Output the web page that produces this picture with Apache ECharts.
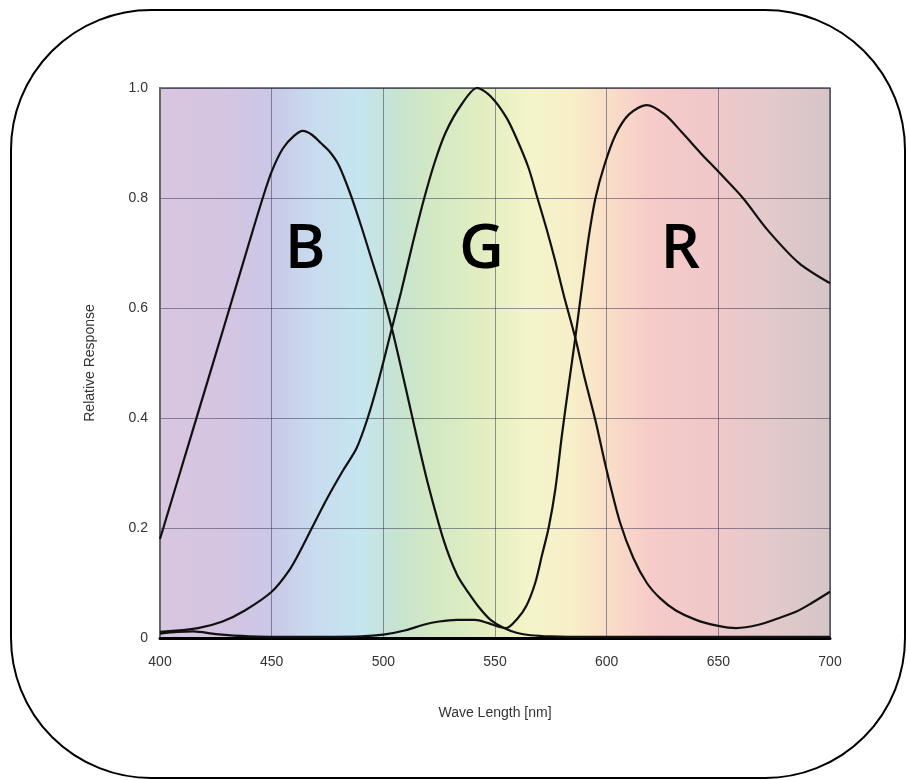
<!DOCTYPE html>
<html>
<head>
<meta charset="utf-8">
<script src="https://cdn.jsdelivr.net/npm/echarts@6/dist/echarts.min.js"></script>
<style>
  html, body { margin: 0; padding: 0; background: #fff; }
  #chart { width: 907px; height: 780px; }
</style>
</head>
<body>
<div id="chart"></div>
<script>
// 波长 / 响应数据
const blueNm = [400, 415, 430, 440, 446, 450, 455, 460, 464, 468, 472, 476, 480, 485, 490, 495, 500, 504, 510, 515, 520, 527, 533, 538, 543, 548, 554, 560, 566, 575, 590, 620, 660, 700];
const blueVal = [0.18, 0.382, 0.584, 0.72, 0.8, 0.848, 0.89, 0.913, 0.922, 0.915, 0.9, 0.884, 0.86, 0.81, 0.75, 0.685, 0.62, 0.56, 0.455, 0.365, 0.28, 0.178, 0.115, 0.083, 0.055, 0.033, 0.018, 0.009, 0.005, 0.003, 0.002, 0.002, 0.002, 0.002];

const greenNm = [400, 417, 428, 438, 450, 458, 463, 468, 475, 482, 488, 493, 498, 503, 508, 513, 518, 523, 528, 535, 542, 548, 555, 560, 565, 569, 573, 577, 581, 586, 590, 595, 600, 606, 612, 618, 624, 631, 640, 650, 658, 668, 677, 685, 692, 700];
const greenVal = [0.011, 0.018, 0.03, 0.05, 0.084, 0.124, 0.16, 0.2, 0.255, 0.305, 0.345, 0.4, 0.47, 0.55, 0.63, 0.715, 0.795, 0.865, 0.92, 0.97, 1.0, 0.985, 0.947, 0.905, 0.855, 0.8, 0.745, 0.685, 0.62, 0.545, 0.475, 0.395, 0.305, 0.21, 0.145, 0.1, 0.072, 0.05, 0.033, 0.022, 0.018, 0.024, 0.036, 0.048, 0.064, 0.084];

const redNm = [400, 408, 415, 425, 440, 460, 490, 500, 510, 518, 525, 533, 541, 547, 552, 555, 560, 564, 568, 571, 574, 577, 580, 583, 586, 589, 592, 595, 599, 604, 610, 618, 626, 634, 642, 650, 661, 672, 686, 700];
const redVal = [0.008, 0.011, 0.012, 0.007, 0.003, 0.002, 0.003, 0.006, 0.014, 0.024, 0.03, 0.033, 0.033, 0.027, 0.02, 0.018, 0.035, 0.058, 0.1, 0.15, 0.2, 0.27, 0.37, 0.46, 0.547, 0.64, 0.73, 0.8, 0.86, 0.915, 0.952, 0.969, 0.952, 0.918, 0.882, 0.848, 0.8, 0.742, 0.682, 0.645];

// 曲线标注
const letterText = ['B', 'G', 'R'];
const letterNm = [465, 544, 633];
const letterVal = [0.705, 0.705, 0.705];

const xTicks = [400, 450, 500, 550, 600, 650, 700];
const yTicks = [0, 0.2, 0.4, 0.6, 0.8, 1.0];

const pairs = (xs, ys) => xs.map((x, i) => [x, ys[i]]);

// 光谱背景
const spectrum = new echarts.graphic.LinearGradient(0, 0, 1, 0, [
  { offset: 0, color: '#d9c6e0' },
  { offset: 0.1, color: '#d4c5e2' },
  { offset: 0.167, color: '#cac8e6' },
  { offset: 0.233, color: '#c8dcef' },
  { offset: 0.3, color: '#c5e5f0' },
  { offset: 0.35, color: '#c6e3d3' },
  { offset: 0.4, color: '#d1e8c4' },
  { offset: 0.483, color: '#e2eec1' },
  { offset: 0.55, color: '#f4f4c9' },
  { offset: 0.617, color: '#f7efc8' },
  { offset: 0.667, color: '#f9dec7' },
  { offset: 0.733, color: '#f6cbc9' },
  { offset: 0.817, color: '#f0c8c9' },
  { offset: 0.9, color: '#e5cacb' },
  { offset: 1, color: '#d5c5c7' }
]);

const chart = echarts.init(document.getElementById('chart'));

const lineSeries = (name, xs, ys) => ({
  name,
  type: 'line',
  data: pairs(xs, ys),
  smooth: 0.3,
  showSymbol: false,
  silent: true,
  lineStyle: { color: '#111', width: 2.2 }
});

chart.setOption({
  animation: false,
  backgroundColor: '#fff',
  textStyle: { fontFamily: 'Liberation Sans, Arial, sans-serif' },
  graphic: [
    {
      type: 'rect',
      shape: { x: 11, y: 10, width: 894, height: 768, r: 140 },
      style: { fill: 'none', stroke: '#000', lineWidth: 2 },
      z: 100
    }
  ],
  grid: {
    left: 160,
    right: 77,
    top: 88,
    bottom: 142,
    show: true,
    backgroundColor: spectrum,
    borderColor: '#555',
    borderWidth: 1.5
  },
  xAxis: {
    type: 'value',
    min: 400,
    max: 700,
    interval: 50,
    name: 'Wave Length [nm]',
    nameLocation: 'middle',
    nameGap: 68,
    nameTextStyle: { color: '#333', fontSize: 14 },
    axisLine: { show: true, lineStyle: { color: '#000', width: 3 } },
    axisTick: { show: false },
    axisLabel: {
      color: '#333',
      fontSize: 14,
      margin: 17,
      formatter: v => (xTicks.includes(v) ? String(v) : '')
    },
    splitLine: { show: true, lineStyle: { color: 'rgba(50,45,80,0.5)', width: 1 } }
  },
  yAxis: {
    type: 'value',
    min: 0,
    max: 1,
    interval: 0.2,
    name: 'Relative Response',
    nameLocation: 'middle',
    nameGap: 63,
    nameTextStyle: { color: '#333', fontSize: 14 },
    axisLine: { show: true, lineStyle: { color: '#666', width: 2 } },
    axisTick: { show: false },
    axisLabel: {
      color: '#333',
      fontSize: 14,
      margin: 12,
      formatter: v => {
        const t = yTicks.find(k => Math.abs(k - v) < 1e-6);
        if (t === undefined) return '';
        return t === 0 ? '0' : t.toFixed(1);
      }
    },
    splitLine: { show: true, lineStyle: { color: 'rgba(50,45,80,0.5)', width: 1 } }
  },
  series: [
    lineSeries('B', blueNm, blueVal),
    lineSeries('G', greenNm, greenVal),
    lineSeries('R', redNm, redVal),
    {
      type: 'scatter',
      symbolSize: 0,
      silent: true,
      itemStyle: { opacity: 1 },
      data: letterText.map((t, i) => [letterNm[i], letterVal[i], t]),
      label: {
        show: true,
        position: 'inside',
        formatter: p => p.value[2],
        fontFamily: 'Open Sans',
        fontWeight: 600,
        fontSize: 62,
        color: '#000',
        opacity: 1,
        textShadowColor: '#fff',
        textShadowOffsetX: 2,
        textShadowOffsetY: 2,
        textShadowBlur: 0
      }
    }
  ]
});
</script>
</body>
</html>
